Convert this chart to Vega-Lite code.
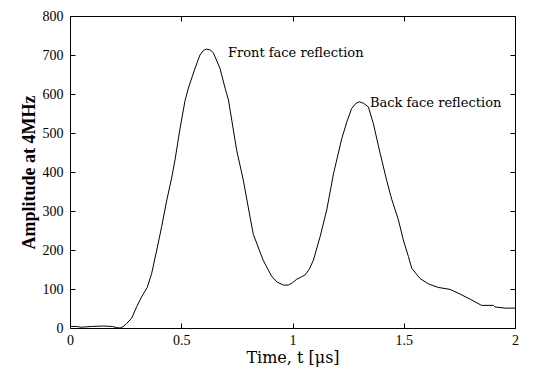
{
  "$schema": "https://vega.github.io/schema/vega-lite/v6.json",
  "width": 445,
  "height": 312,
  "autosize": {"type": "none"},
  "padding": {"left": 70, "top": 16, "right": 20, "bottom": 47},
  "background": "white",
  "datasets": {
    "curve": [
      {"t": 0, "amp": 4}, {"t": 0.03, "amp": 4}, {"t": 0.05, "amp": 2}, {"t": 0.1, "amp": 4},
      {"t": 0.15, "amp": 5}, {"t": 0.19, "amp": 4}, {"t": 0.21, "amp": 1}, {"t": 0.225, "amp": 0},
      {"t": 0.24, "amp": 4}, {"t": 0.255, "amp": 12}, {"t": 0.277, "amp": 25}, {"t": 0.3, "amp": 55},
      {"t": 0.322, "amp": 80}, {"t": 0.347, "amp": 104}, {"t": 0.367, "amp": 140}, {"t": 0.39, "amp": 200},
      {"t": 0.412, "amp": 260}, {"t": 0.435, "amp": 328}, {"t": 0.457, "amp": 385}, {"t": 0.472, "amp": 431},
      {"t": 0.494, "amp": 510}, {"t": 0.517, "amp": 583}, {"t": 0.532, "amp": 615}, {"t": 0.562, "amp": 666},
      {"t": 0.584, "amp": 700}, {"t": 0.6, "amp": 712}, {"t": 0.614, "amp": 715}, {"t": 0.63, "amp": 713},
      {"t": 0.644, "amp": 706}, {"t": 0.674, "amp": 666}, {"t": 0.697, "amp": 615}, {"t": 0.712, "amp": 585},
      {"t": 0.727, "amp": 533}, {"t": 0.749, "amp": 456}, {"t": 0.779, "amp": 379}, {"t": 0.809, "amp": 285},
      {"t": 0.824, "amp": 240}, {"t": 0.854, "amp": 195}, {"t": 0.868, "amp": 174}, {"t": 0.89, "amp": 150},
      {"t": 0.906, "amp": 133}, {"t": 0.93, "amp": 118}, {"t": 0.959, "amp": 110}, {"t": 0.981, "amp": 110},
      {"t": 1.0, "amp": 116}, {"t": 1.019, "amp": 125}, {"t": 1.04, "amp": 131}, {"t": 1.056, "amp": 136},
      {"t": 1.075, "amp": 150}, {"t": 1.094, "amp": 174}, {"t": 1.124, "amp": 234}, {"t": 1.154, "amp": 303},
      {"t": 1.184, "amp": 395}, {"t": 1.221, "amp": 485}, {"t": 1.245, "amp": 530}, {"t": 1.266, "amp": 563},
      {"t": 1.285, "amp": 576}, {"t": 1.3, "amp": 580}, {"t": 1.32, "amp": 576}, {"t": 1.341, "amp": 567},
      {"t": 1.363, "amp": 525}, {"t": 1.393, "amp": 450}, {"t": 1.423, "amp": 379}, {"t": 1.446, "amp": 330},
      {"t": 1.476, "amp": 277}, {"t": 1.498, "amp": 226}, {"t": 1.521, "amp": 183}, {"t": 1.536, "amp": 153},
      {"t": 1.573, "amp": 127}, {"t": 1.611, "amp": 113}, {"t": 1.655, "amp": 104}, {"t": 1.708, "amp": 99},
      {"t": 1.753, "amp": 87}, {"t": 1.798, "amp": 74}, {"t": 1.85, "amp": 58}, {"t": 1.903, "amp": 58},
      {"t": 1.91, "amp": 54}, {"t": 1.955, "amp": 51}, {"t": 2.0, "amp": 51}
    ],
    "notes": [
      {"t": 0.71, "amp": 705, "label": "Front face reflection"},
      {"t": 1.348, "amp": 578, "label": "Back face reflection"}
    ]
  },
  "config": {
    "font": "Liberation Serif",
    "view": {"stroke": "black", "strokeWidth": 1},
    "axis": {
      "domain": false,
      "grid": false,
      "tickColor": "black",
      "tickSize": 5,
      "tickWidth": 1,
      "offset": -5,
      "labelColor": "black",
      "labelFont": "Liberation Serif",
      "labelFontSize": 14,
      "labelFlush": false,
      "titleColor": "black",
      "titleFont": "Liberation Serif"
    }
  },
  "layer": [
    {
      "data": {"name": "curve"},
      "mark": {"type": "line", "color": "black", "strokeWidth": 1},
      "encoding": {
        "x": {
          "field": "t", "type": "quantitative",
          "scale": {"domain": [0, 2], "nice": false},
          "axis": {"orient": "bottom", "offset": -5, "values": [0, 0.5, 1, 1.5, 2], "format": ".1~f",
                   "labelPadding": 5, "title": "Time, t [μs]", "titleFontSize": 16,
                   "titleFont": "DejaVu Serif",
                   "titleFontWeight": "normal", "titlePadding": 2}
        },
        "y": {
          "field": "amp", "type": "quantitative",
          "scale": {"domain": [0, 800], "nice": false},
          "axis": {"orient": "left", "offset": -5, "values": [0, 100, 200, 300, 400, 500, 600, 700, 800],
                   "labelPadding": 7, "title": "Amplitude at 4MHz", "titleFontSize": 18,
                   "titleFontWeight": "bold", "titlePadding": 4}
        }
      }
    },
    {
      "data": {"name": "curve"},
      "mark": {"type": "line", "color": "black", "strokeWidth": 1, "opacity": 0},
      "encoding": {
        "x": {
          "field": "t", "type": "quantitative",
          "axis": {"orient": "top", "offset": -5, "values": [0, 0.5, 1, 1.5, 2], "labels": false, "title": null}
        },
        "y": {
          "field": "amp", "type": "quantitative",
          "axis": {"orient": "right", "offset": -5, "values": [0, 100, 200, 300, 400, 500, 600, 700, 800], "labels": false, "title": null}
        }
      }
    },
    {
      "data": {"name": "notes"},
      "mark": {"type": "text", "align": "left", "baseline": "middle", "fontSize": 13, "font": "DejaVu Serif", "color": "black"},
      "encoding": {
        "x": {"field": "t", "type": "quantitative", "axis": null},
        "y": {"field": "amp", "type": "quantitative", "axis": null},
        "text": {"field": "label"}
      }
    }
  ],
  "resolve": {"axis": {"x": "independent", "y": "independent"}}
}
